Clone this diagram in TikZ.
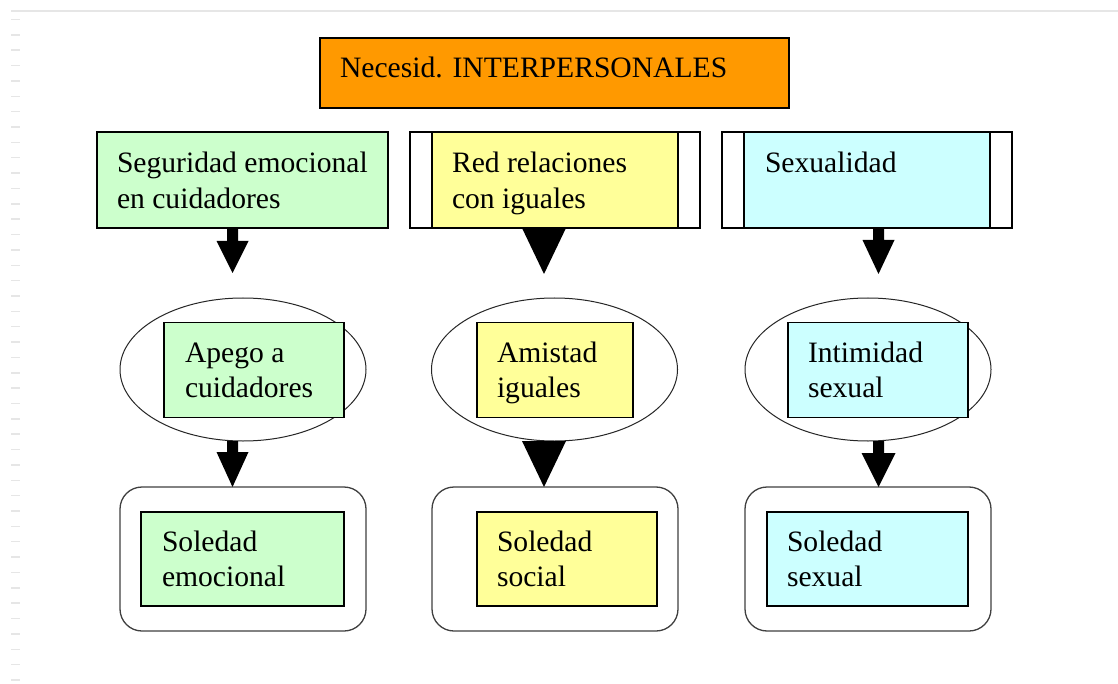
\documentclass[tikz,border=0pt]{standalone}
\usepackage{fontspec}
\setmainfont{Liberation Serif}
\usetikzlibrary{shapes.geometric,calc}
\definecolor{orng}{HTML}{FF9900}
\definecolor{lgreen}{HTML}{CCFFCC}
\definecolor{lyellow}{HTML}{FFFF99}
\definecolor{lcyan}{HTML}{CCFFFF}
\definecolor{faint}{HTML}{E6E6E6}
\newcommand{\twolines}[2]{\begin{tabular}[t]{@{}l@{}}#1\\#2\end{tabular}}
\newcommand{\blockarrow}[5]{%
  \fill let \p1=#1, \p2=#2 in
    (\x1-#3,\y1) -- (\x1+#3,\y1) -- (\x1+#3,\y2+#5) -- (\x1+#4,\y2+#5)
    -- (\x2,\y2) -- (\x1-#4,\y2+#5) -- (\x1-#3,\y2+#5) -- cycle;}
\newcommand{\wedgearrow}[3]{%
  \fill let \p1=#1, \p2=#2 in
    (\x1-#3,\y1) -- (\x1+#3,\y1) -- (\x2,\y2) -- cycle;}
\begin{document}
\begin{tikzpicture}[x=1pt,y=-1pt,
  box/.style={draw=black,line width=1.8pt,inner sep=0pt,outer sep=0pt,rectangle},
  oval/.style={draw=black!85,line width=1pt,ellipse,inner sep=0pt,outer sep=0pt,
    minimum width=246pt,minimum height=143pt},
  rbox/.style={draw=black!75,line width=1.3pt,rectangle,rounded corners=22pt,inner sep=0pt,
    outer sep=0pt,minimum width=246pt,minimum height=144pt},
  txt/.style={anchor=base west,inner sep=0pt,outer sep=0pt,
    font=\fontsize{29.6}{35.5}\selectfont}]
\useasboundingbox (0,0) rectangle (1118,684);
\fill[white] (0,0) rectangle (1118,684);
% faint page marks
\draw[faint,line width=1.5pt] (11,11) -- (1118,11);
\foreach \k in {0,...,43}
  \draw[faint,line width=1.5pt] (11,{19.5+15.36*\k}) -- (20,{19.5+15.36*\k});

% top box
\node[box,fill=orng,minimum width=469pt,minimum height=70pt] (top) at (554.5,73) {};
\node[txt] (toptxt) at (340,78) {Necesid. INTERPERSONALES};

% row 1
\node[box,fill=lgreen,minimum width=291pt,minimum height=96pt] (g1) at (242.5,180) {};
\node[box,fill=white,minimum width=290pt,minimum height=96pt] (y1o) at (555,180) {};
\node[box,fill=lyellow,minimum width=246pt,minimum height=96pt] (y1) at (555,180) {};
\node[box,fill=white,minimum width=290pt,minimum height=96pt] (c1o) at (867,180) {};
\node[box,fill=lcyan,minimum width=246pt,minimum height=96pt] (c1) at (867,180) {};
\node[txt] (g1t) at (117,173) {\twolines{Seguridad emocional}{en cuidadores}};
\node[txt] (y1t) at (452,173) {\twolines{Red relaciones}{con iguales}};
\node[txt] (c1t) at (765,173) {Sexualidad};

% row 2
\node[oval] (e1) at (243,369.5) {};
\node[oval] (e2) at (554.5,369.5) {};
\node[oval] (e3) at (868,369.5) {};
\node[box,fill=lgreen,minimum width=180pt,minimum height=95pt] (g2) at (254,370) {};
\node[box,fill=lyellow,minimum width=156pt,minimum height=95pt] (y2) at (555,370) {};
\node[box,fill=lcyan,minimum width=180pt,minimum height=95pt] (c2) at (878,370) {};
\node[txt] (g2t) at (185,362) {\twolines{Apego a}{cuidadores}};
\node[txt] (y2t) at (497,362) {\twolines{Amistad}{iguales}};
\node[txt] (c2t) at (808,362) {\twolines{Intimidad}{sexual}};

% row 3
\node[rbox] (r1) at (243,559) {};
\node[rbox] (r2) at (555,559) {};
\node[rbox] (r3) at (868,559) {};
\node[box,fill=lgreen,minimum width=203pt,minimum height=94pt] (g3) at (242.5,559) {};
\node[box,fill=lyellow,minimum width=180pt,minimum height=94pt] (y3) at (567,559) {};
\node[box,fill=lcyan,minimum width=201pt,minimum height=94pt] (c3) at (867.5,559) {};
\node[txt] (g3t) at (162,551) {\twolines{Soledad}{emocional}};
\node[txt] (y3t) at (497,551) {\twolines{Soledad}{social}};
\node[txt] (c3t) at (787,551) {\twolines{Soledad}{sexual}};

% arrows
\blockarrow{([xshift=-10pt]g1.south)}{([xshift=-10.5pt,yshift=25pt]e1.north)}{5.5pt}{16pt}{32pt}
\blockarrow{([xshift=-10.5pt]e1.south)}{([xshift=-10.5pt]r1.north)}{5.5pt}{16pt}{35pt}
\wedgearrow{([xshift=-11pt]y1o.south)}{([xshift=-10.5pt,yshift=24pt]e2.north)}{22pt}
\wedgearrow{([xshift=-10.5pt]e2.south)}{([xshift=-11pt]r2.north)}{22pt}
\blockarrow{([xshift=11.5pt]c1o.south)}{([xshift=10.5pt,yshift=24pt]e3.north)}{5.5pt}{16pt}{34pt}
\blockarrow{([xshift=10.5pt]e3.south)}{([xshift=10.5pt]r3.north)}{5.5pt}{17pt}{34pt}
\end{tikzpicture}
\end{document}
